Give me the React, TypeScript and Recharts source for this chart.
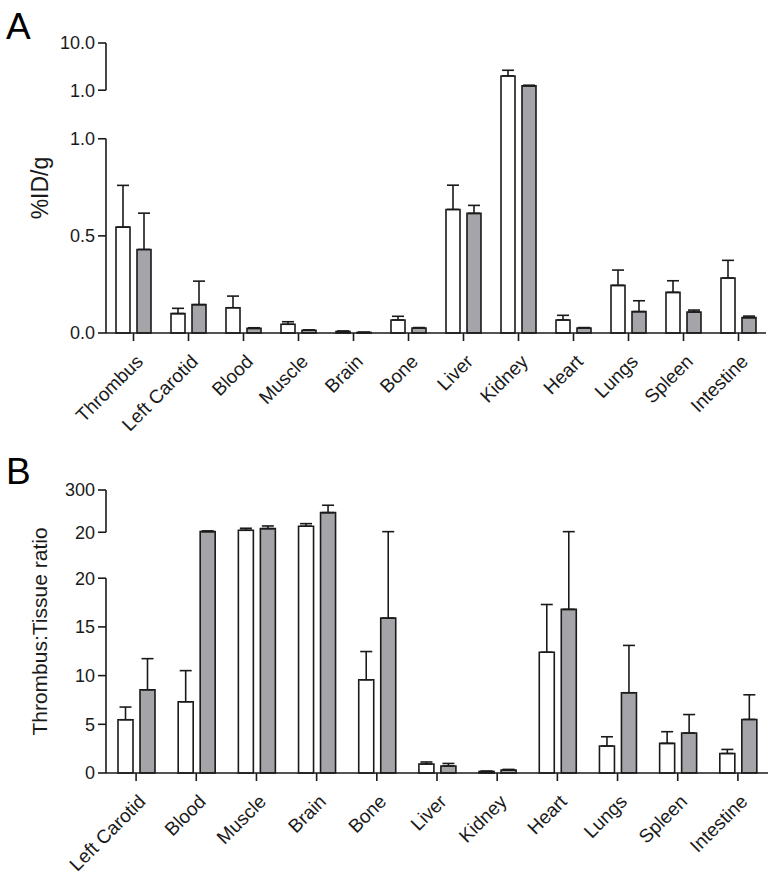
import { BarChart, Bar, XAxis, YAxis, ErrorBar } from 'recharts';

// Panel A: %ID/g (upper error only)
const organsA = ['Thrombus', 'Left Carotid', 'Blood', 'Muscle', 'Brain', 'Bone', 'Liver', 'Kidney', 'Heart', 'Lungs', 'Spleen', 'Intestine'];
const whiteA = [0.545, 0.1, 0.13, 0.045, 0.008, 0.067, 0.636, 3.72, 0.067, 0.245, 0.209, 0.283];
const whiteAErr = [0.215, 0.027, 0.06, 0.013, 0.002, 0.019, 0.125, 1.08, 0.024, 0.079, 0.06, 0.091];
const greyA = [0.43, 0.146, 0.024, 0.014, 0.003, 0.026, 0.616, 1.82, 0.026, 0.11, 0.108, 0.079];
const greyAErr = [0.187, 0.121, 0.003, 0.002, 0.001, 0.002, 0.041, 0.13, 0.002, 0.056, 0.01, 0.008];
const ticksA = [0, 0.5, 1.0];
const ticksAUpper = [1.0, 10.0];

// Panel B: Thrombus:Tissue ratio
const organsB = ['Left Carotid', 'Blood', 'Muscle', 'Brain', 'Bone', 'Liver', 'Kidney', 'Heart', 'Lungs', 'Spleen', 'Intestine'];
const whiteB = [5.47, 7.31, 33, 60, 9.57, 0.92, 0.16, 12.4, 2.77, 3.04, 2.0];
const whiteBErr = [1.3, 3.2, 13.5, 17, 2.9, 0.21, 0.03, 4.9, 0.95, 1.2, 0.42];
const greyB = [8.54, 24, 44, 150, 15.9, 0.72, 0.3, 16.8, 8.24, 4.1, 5.5];
const greyBErr = [3.2, 5, 17.7, 49, 8.1, 0.26, 0.07, 7.2, 4.86, 1.9, 2.53];
const ticksB = [0, 5, 10, 15, 20];
const ticksBUpper = [20, 300];

const FONT = '"Liberation Sans", Arial, Helvetica, sans-serif';
const INK = '#1a1a1a';
const GREY = '#a5a5a9';
const LW = 1.6;

// segmented (broken) axis: lower linear part, a gap, then a compressed upper part
function makeBreak(lowMax: number, gap: number, upMax: number, upSpan: number) {
  return (v: number) => (v <= lowMax ? v : lowMax + gap + ((v - lowMax) / (upMax - lowMax)) * upSpan);
}
const toA = makeBreak(1, 0.25, 10, 0.243);
const toB = makeBreak(20, 4.718, 300, 4.338);

function buildRows(organs: string[], white: number[], wErr: number[], grey: number[], gErr: number[], to: (v: number) => number) {
  return organs.map((name, i) => ({
    name,
    white: to(white[i]),
    grey: to(grey[i]),
    whiteErr: [0, to(white[i] + wErr[i]) - to(white[i])],
    greyErr: [0, to(grey[i] + gErr[i]) - to(grey[i])],
  }));
}

const rowsA = buildRows(organsA, whiteA, whiteAErr, greyA, greyAErr, toA);
const rowsB = buildRows(organsB, whiteB, whiteBErr, greyB, greyBErr, toB);

const AngledTick = ({ x, y, payload }: any) => (
  <text
    x={0}
    y={0}
    dy="0.35em"
    transform={`translate(${x + 6},${y + 15}) rotate(-45)`}
    textAnchor="end"
    fill={INK}
    fontSize={19}
    fontFamily={FONT}
  >
    {payload.value}
  </text>
);

type PanelProps = {
  rows: any[];
  lowTicks: number[];
  upTicks: number[];
  to: (v: number) => number;
  fmt: (v: number) => string;
  title: string;
  titleSize: number;
  letter: string;
  top: number;
  marginTop: number;
  marginRight: number;
  barSize: number;
};

const W = 776;
const H = 440;
const ML = 46;
const YW = 60;
const XH = 100;
const MB = 7;

function Panel({ rows, lowTicks, upTicks, to, fmt, title, titleSize, letter, top, marginTop, marginRight, barSize }: PanelProps) {
  const dMax = to(upTicks[upTicks.length - 1]);
  const tickVals = [...lowTicks.map(to), ...upTicks.map((v, i) => (i === 0 ? to(v + 1e-9) : to(v)))];
  const tickLabels = [...lowTicks, ...upTicks].map(fmt);
  // pixel helper for the broken axis line (same linear mapping as the y axis)
  const plotH = H - marginTop - MB - XH;
  const py = (d: number) => marginTop + plotH * (1 - d / dMax);
  const ax = ML + YW;
  return (
    <div style={{ position: 'absolute', left: 0, top, width: W, height: H }}>
      <BarChart
        width={W}
        height={H}
        data={rows}
        margin={{ top: marginTop, right: marginRight, left: ML, bottom: MB }}
        barSize={barSize}
        barGap={7}
      >
        <XAxis
          dataKey="name"
          interval={0}
          height={XH}
          tickSize={8}
          axisLine={{ stroke: INK, strokeWidth: LW }}
          tickLine={{ stroke: INK, strokeWidth: LW }}
          tick={<AngledTick />}
        />
        <YAxis
          type="number"
          domain={[0, dMax]}
          ticks={tickVals}
          interval={0}
          width={YW}
          tickSize={8}
          tickMargin={3}
          axisLine={false}
          tickLine={{ stroke: INK, strokeWidth: LW }}
          tickFormatter={(v: number, i: number) => tickLabels[i]}
          tick={{ fill: INK, fontSize: 18, fontFamily: FONT }}
          label={{
            value: title,
            angle: -90,
            position: 'insideLeft',
            offset: -6,
            style: { textAnchor: 'middle', fill: INK, fontSize: titleSize, fontFamily: FONT },
          }}
        />
        <Bar dataKey="white" fill="#ffffff" stroke={INK} strokeWidth={LW} isAnimationActive={false}>
          <ErrorBar dataKey="whiteErr" direction="y" width={6} stroke={INK} strokeWidth={LW} isAnimationActive={false} />
        </Bar>
        <Bar dataKey="grey" fill={GREY} stroke={INK} strokeWidth={LW} isAnimationActive={false}>
          <ErrorBar dataKey="greyErr" direction="y" width={6} stroke={INK} strokeWidth={LW} isAnimationActive={false} />
        </Bar>
      </BarChart>
      <svg width={W} height={H} style={{ position: 'absolute', left: 0, top: 0, pointerEvents: 'none' }}>
        <line x1={ax} x2={ax} y1={py(0)} y2={py(to(lowTicks[lowTicks.length - 1]))} stroke={INK} strokeWidth={LW} />
        <line x1={ax} x2={ax} y1={py(to(upTicks[0] + 1e-9))} y2={py(dMax)} stroke={INK} strokeWidth={LW} />
        <text x={6} y={top === 0 ? 39 : 44} fill="#000" fontSize={37} fontFamily={FONT}>
          {letter}
        </text>
      </svg>
    </div>
  );
}

export default function App() {
  return (
    <div style={{ position: 'absolute', left: 0, top: 0, width: 776, height: 880, background: '#fff' }}>
      <Panel
        rows={rowsA}
        lowTicks={ticksA}
        upTicks={ticksAUpper}
        to={toA}
        fmt={(v) => v.toFixed(1)}
        title="%ID/g"
        titleSize={23}
        letter="A"
        top={0}
        marginTop={43}
        marginRight={10}
        barSize={14}
      />
      <Panel
        rows={rowsB}
        lowTicks={ticksB}
        upTicks={ticksBUpper}
        to={toB}
        fmt={(v) => String(v)}
        title="Thrombus:Tissue ratio"
        titleSize={21}
        letter="B"
        top={440}
        marginTop={50}
        marginRight={8}
        barSize={15}
      />
    </div>
  );
}
